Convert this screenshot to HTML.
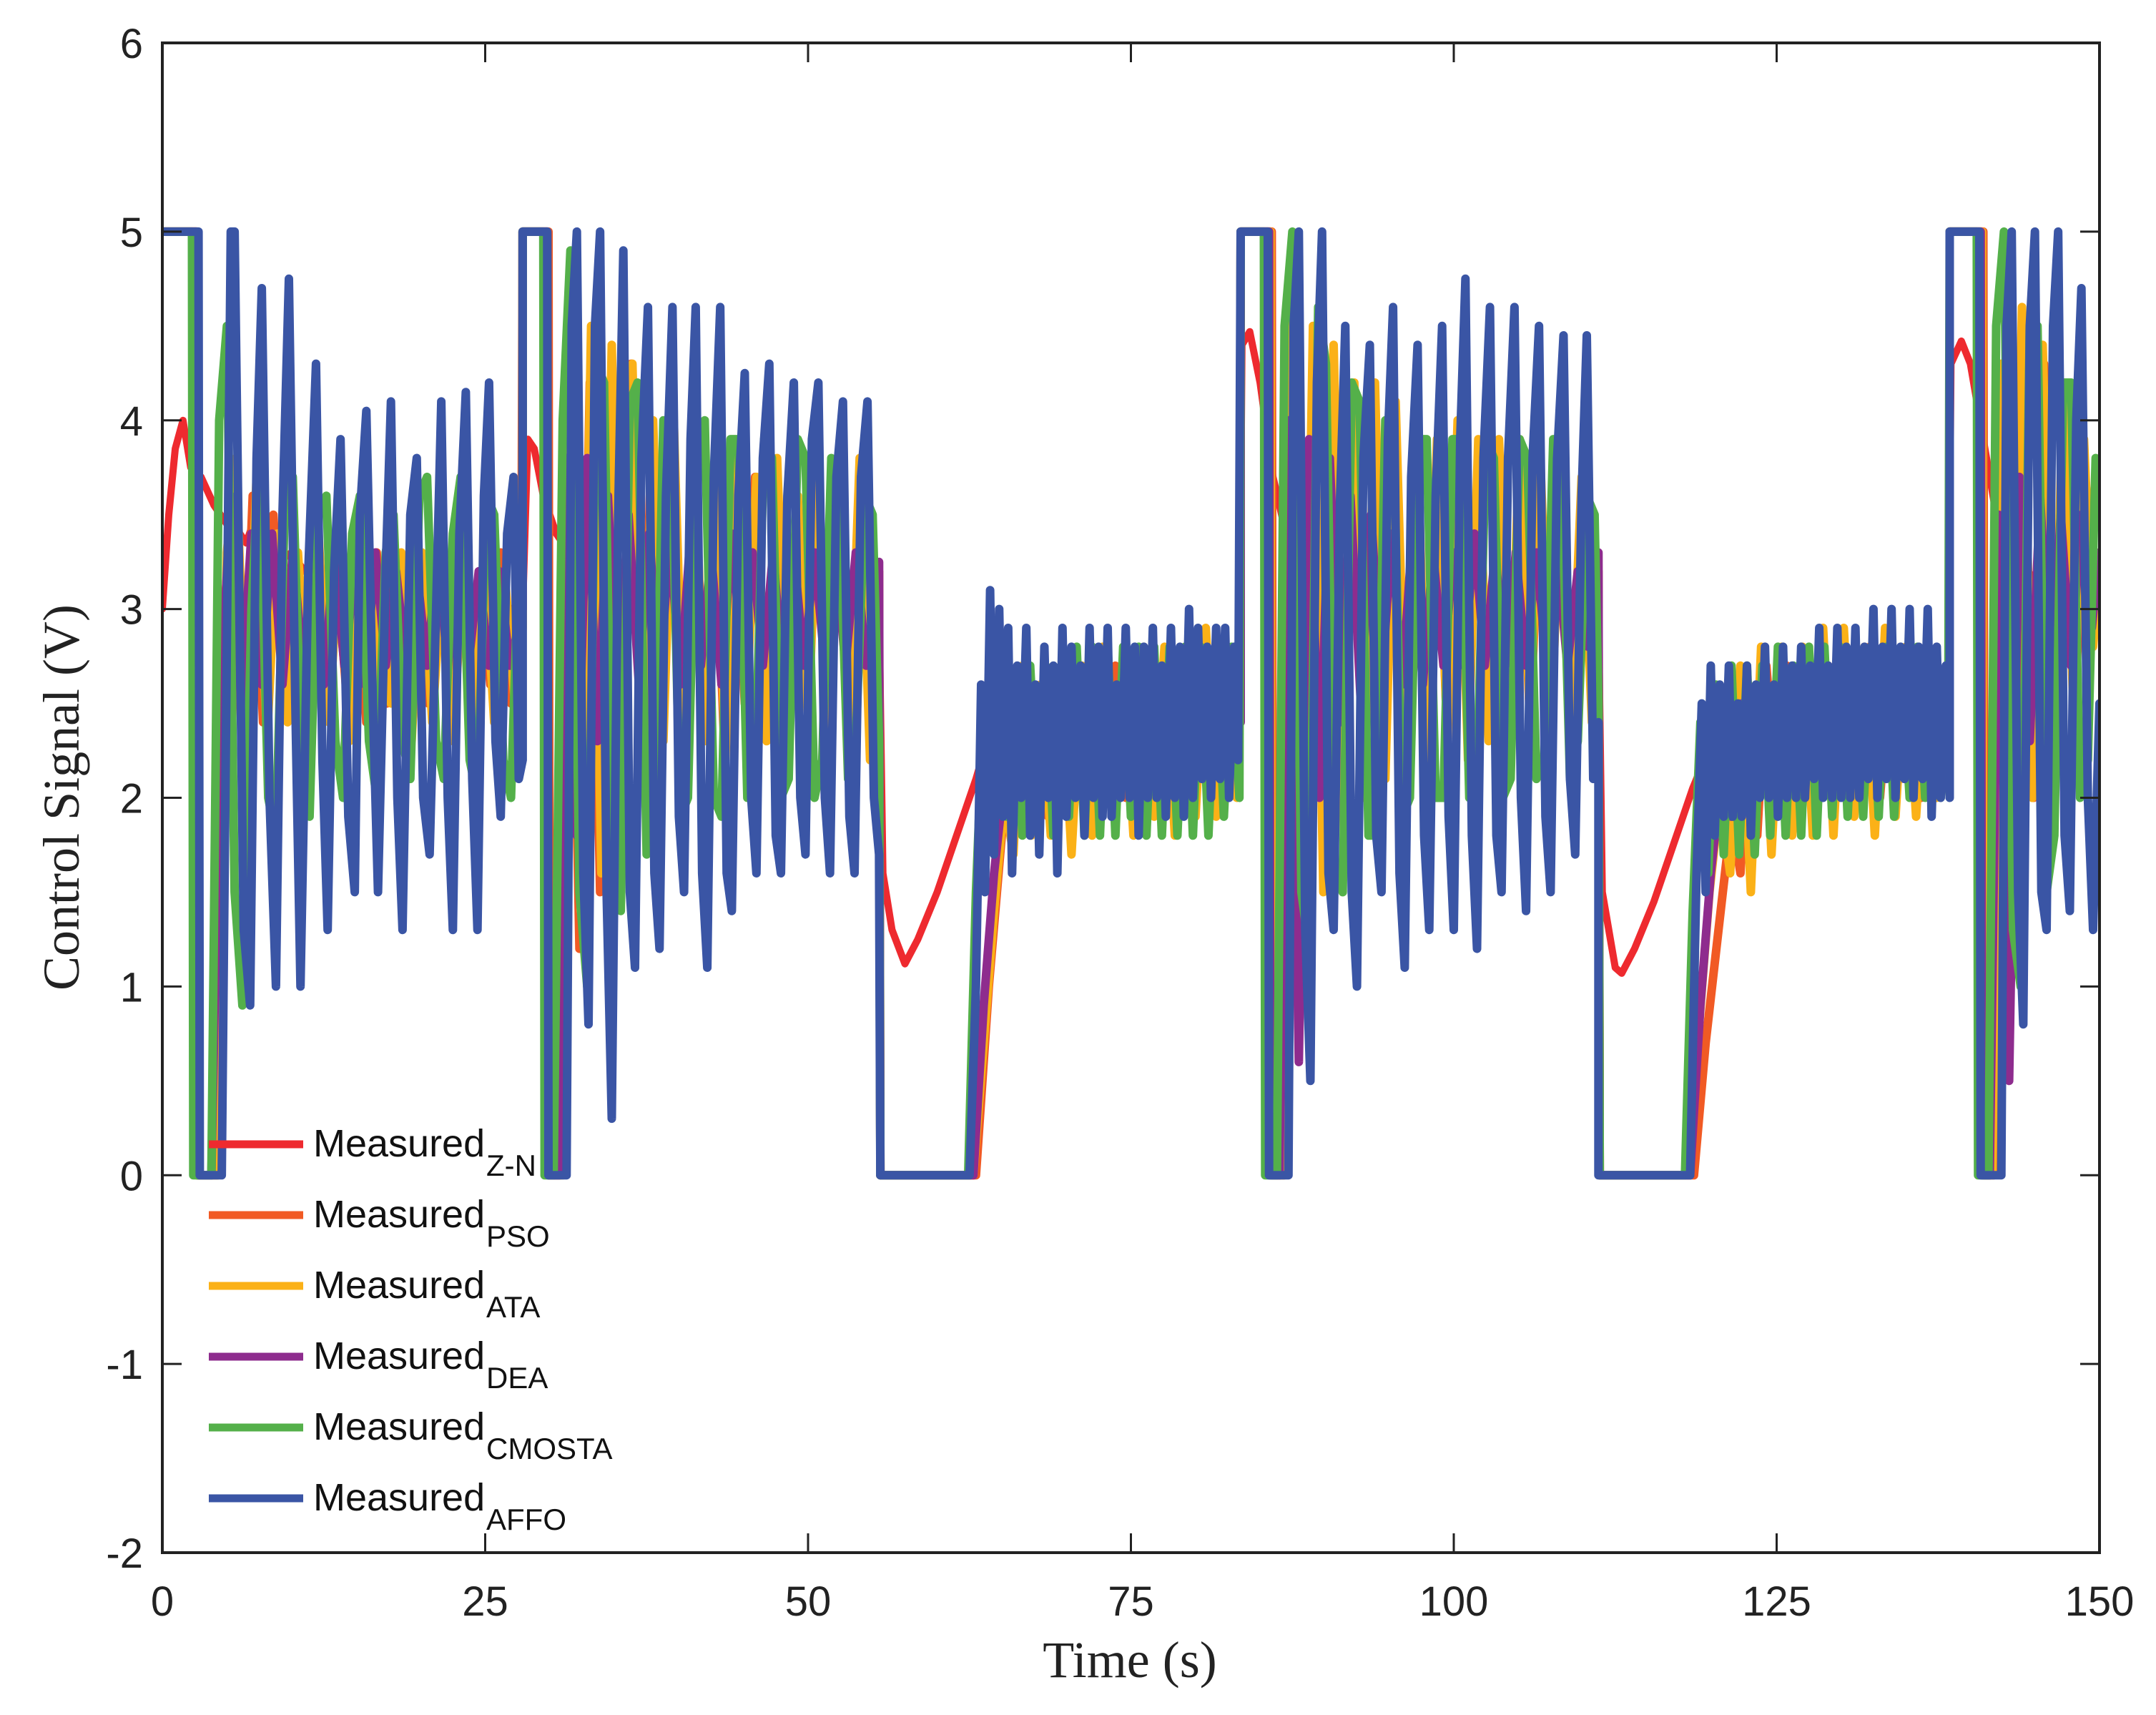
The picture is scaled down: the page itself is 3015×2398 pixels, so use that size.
<!DOCTYPE html>
<html><head><meta charset="utf-8"><style>
html,body{margin:0;padding:0;background:#fff;}
svg{display:block;}
</style></head><body>
<svg id="chart" width="3015" height="2398" viewBox="0 0 3015 2398" xmlns="http://www.w3.org/2000/svg">
<rect x="0" y="0" width="3015" height="2398" fill="#fff"/>
<g id="series"></g>
<g id="axes"></g>
<g id="legend"></g>
</svg>
<script>
const xTicks=[0,25,50,75,100,125,150];
const yTicks=[-2,-1,0,1,2,3,4,5,6];
const seriesNames=["Z-N","PSO","ATA","DEA","CMOSTA","AFFO"];
const seriesColors=["#ee2a2f","#f15a24","#fbb117","#8e2c8e","#54b04a","#3a55a5"];
const redData=[[0,3],[0.5,3.5],[1,3.85],[1.6,4.0],[2.2,3.75],[3,3.7],[4,3.55],[5,3.45],[6,3.4],[6.5,3.35],[7,3.45],[8,3.3],[9,3.25],[10,3.3],[11,3.2],[12,3.25],[13,3.15],[14,3.2],[15,3.1],[16,3.2],[17,3.05],[18,3.15],[19,3.05],[20,3.1],[21,3.0],[22,3.1],[23,3.0],[24,3.05],[25,3.0],[26,3.05],[27,3.0],[27.9,3.0],[28.3,3.9],[28.8,3.85],[29.5,3.6],[30.5,3.4],[31.5,3.3],[33,3.25],[35,3.2],[38,3.1],[42,3.05],[46,3.0],[50,3.0],[55.5,3.0],[55.8,1.6],[56.5,1.3],[57.5,1.12],[58.5,1.25],[60,1.5],[61.5,1.8],[63,2.1],[64.5,2.45],[66,2.6],[68,2.6],[70,2.5],[73,2.45],[76,2.4],[80,2.45],[83.4,2.5],[83.6,4.4],[84.2,4.47],[85,4.2],[86,3.7],[87,3.4],[88.5,3.2],[90,3.1],[95,3.05],[100,3.0],[105,3.0],[111.2,3.0],[111.5,1.5],[112.5,1.1],[113,1.07],[114,1.2],[115.5,1.45],[117,1.75],[118.5,2.05],[120,2.3],[122,2.45],[125,2.45],[130,2.4],[135,2.45],[138.3,2.5],[138.5,4.3],[139.3,4.42],[140,4.3],[141,3.9],[142,3.5],[143,3.3],[144,3.2],[146,3.15],[148,3.15],[150,3.1]];
const psoData=[[0,5],[2.7,5],[2.8,0],[4.2,0],[4.8,3.0],[5.5,3.6],[6.2,2.2],[7,3.6],[7.8,2.4],[8.6,3.5],[9.4,2.5],[10.2,3.3],[11,2.4],[11.8,3.5],[12.6,2.5],[13.4,3.3],[14.2,2.6],[15,3.3],[15.8,2.4],[16.6,3.3],[17.4,2.5],[18.2,3.2],[19,2.5],[19.8,3.3],[20.6,2.5],[21.4,3.2],[22.2,2.6],[23,3.3],[23.8,2.5],[24.6,3.2],[25.4,2.6],[26.2,3.3],[27,2.5],[27.8,3.0],[27.9,5],[29.9,5],[30.0,0],[30.8,0],[31.5,4.0],[32.3,1.2],[33.1,4.2],[33.9,1.5],[34.7,4.2],[35.5,2.0],[36.3,4.3],[37.1,2.2],[37.9,3.9],[38.7,2.3],[39.5,3.8],[40.3,2.4],[41.1,3.8],[41.9,2.4],[42.7,3.7],[43.5,2.3],[44.3,3.6],[45.1,2.5],[45.9,3.7],[46.7,2.4],[47.5,3.6],[48.3,2.4],[49.1,3.5],[49.9,2.5],[50.7,3.6],[51.5,2.4],[52.3,3.5],[53.1,2.5],[53.9,3.4],[54.7,2.6],[55.5,3.2],[55.6,0],[63.0,0],[64,1.0],[65,1.8],[65.6,2.4],[66.2,1.9],[66.8,2.6],[67.4,1.9],[68,2.5],[68.6,1.9],[69.2,2.6],[69.8,2.0],[70.6,2.7],[71.4,1.9],[72.2,2.6],[73,2.0],[73.8,2.7],[74.6,2.0],[75.4,2.6],[76.2,1.9],[77,2.7],[77.8,2.0],[78.6,2.6],[79.4,2.0],[80.2,2.7],[81,2.0],[81.8,2.7],[82.6,2.1],[83.4,2.8],[83.5,5],[85.9,5],[86.0,0],[86.8,0],[87.5,4.5],[88.3,1.0],[89.1,4.3],[89.9,1.6],[90.7,4.2],[91.5,2.0],[92.3,4.0],[93.1,2.2],[93.9,4.0],[94.7,2.3],[95.5,3.9],[96.3,2.3],[97.1,3.8],[97.9,2.4],[98.7,3.8],[99.5,2.3],[100.3,3.7],[101.1,2.4],[101.9,3.8],[102.7,2.4],[103.5,3.6],[104.3,2.5],[105.1,3.7],[105.9,2.4],[106.7,3.6],[107.5,2.5],[108.3,3.6],[109.1,2.5],[109.9,3.5],[110.7,2.6],[111.2,3.2],[111.3,0],[118.6,0],[119.5,0.7],[120.5,1.3],[121.5,1.9],[122.2,1.6],[122.8,2.6],[123.5,1.8],[124.2,2.7],[125,2.0],[125.8,2.7],[126.6,2.0],[127.4,2.7],[128.2,2.0],[129,2.7],[129.8,2.0],[130.6,2.7],[131.4,2.1],[132.2,2.8],[133,2.0],[133.8,2.7],[134.6,2.1],[135.4,2.8],[136.2,2.0],[137,2.7],[137.8,2.1],[138.4,2.6],[138.4,5],[141.0,5],[141.1,0],[141.8,0],[142.5,4.0],[143.3,1.5],[144.1,4.2],[144.9,2.0],[145.7,4.3],[146.5,2.3],[147.3,4.0],[148.1,2.5],[148.9,3.7],[149.6,3.0],[150,3.3]];
const ataData=[[0,5],[2.6,5],[2.7,0],[4.3,0],[5,3.3],[5.7,3.8],[6.5,2.3],[7.3,3.7],[8.1,2.3],[8.9,3.4],[9.7,2.4],[10.5,3.3],[11.3,2.5],[12.1,3.4],[12.9,2.4],[13.7,3.3],[14.5,2.3],[15.3,3.3],[16.1,2.4],[16.9,3.2],[17.7,2.5],[18.5,3.3],[19.3,2.3],[20.1,3.3],[20.9,2.4],[21.7,3.2],[22.5,2.3],[23.3,3.2],[24.1,2.4],[24.9,3.3],[25.7,2.4],[26.5,3.2],[27.3,2.5],[27.9,2.9],[27.9,5],[29.8,5],[29.9,0],[31.0,0],[31.6,4.3],[32.4,1.4],[33.2,4.5],[34,1.6],[34.8,4.4],[35.6,1.8],[36.4,4.3],[37.2,2.1],[38,4.0],[38.8,2.3],[39.6,4.0],[40.4,2.2],[41.2,3.9],[42,2.3],[42.8,3.8],[43.6,2.2],[44.4,3.8],[45.2,2.4],[46,3.7],[46.8,2.3],[47.6,3.8],[48.4,2.3],[49.2,3.6],[50,2.4],[50.8,3.7],[51.6,2.3],[52.4,3.6],[53.2,2.3],[54,3.8],[54.8,2.2],[55.5,3.0],[55.6,0],[62.8,0],[63.6,0.7],[64.4,1.4],[65.2,2.0],[65.9,1.7],[66.6,2.7],[67.3,1.8],[68,2.6],[68.8,1.8],[69.6,2.7],[70.4,1.7],[71.2,2.7],[72,1.8],[72.8,2.8],[73.6,1.9],[74.4,2.7],[75.2,1.8],[76,2.8],[76.8,1.9],[77.6,2.8],[78.4,1.8],[79.2,2.8],[80,1.9],[80.8,2.9],[81.6,1.9],[82.4,2.8],[83.2,2.0],[83.5,2.6],[83.5,5],[85.8,5],[85.9,0],[86.9,0],[87.5,4.6],[88.3,1.3],[89.1,4.5],[89.9,1.5],[90.7,4.4],[91.5,1.8],[92.3,4.2],[93.1,2.0],[93.9,4.2],[94.7,2.1],[95.5,4.1],[96.3,2.2],[97.1,4.1],[97.9,2.2],[98.7,3.9],[99.5,2.3],[100.3,4.0],[101.1,2.2],[101.9,3.9],[102.7,2.3],[103.5,3.9],[104.3,2.3],[105.1,3.9],[105.9,2.4],[106.7,3.8],[107.5,2.3],[108.3,3.7],[109.1,2.4],[109.9,3.7],[110.7,2.4],[111.2,3.0],[111.3,0],[118.2,0],[119,0.8],[119.8,1.5],[120.6,2.0],[121.4,1.6],[122.2,2.7],[123,1.5],[123.8,2.8],[124.6,1.7],[125.4,2.8],[126.2,1.8],[127,2.8],[127.8,1.8],[128.6,2.9],[129.4,1.8],[130.2,2.9],[131,1.9],[131.8,2.8],[132.6,1.8],[133.4,2.9],[134.2,1.9],[135,2.8],[135.8,1.9],[136.6,2.8],[137.4,2.0],[138.4,2.7],[138.4,5],[140.9,5],[141.0,0],[141.7,0],[142.4,4.3],[143.2,1.6],[144,4.6],[144.8,2.0],[145.6,4.4],[146.4,2.2],[147.2,4.2],[148,2.4],[148.8,3.9],[149.5,2.8],[150,3.2]];
const deaData=[[0,5],[2.6,5],[2.7,0],[3.8,0],[4.5,2.5],[5.3,3.6],[6.1,2.5],[6.9,3.4],[7.7,2.6],[8.5,3.4],[9.3,2.6],[10.1,3.3],[10.9,2.7],[11.7,3.3],[12.5,2.6],[13.3,3.3],[14.1,2.7],[14.9,3.2],[15.7,2.6],[16.5,3.3],[17.3,2.7],[18.1,3.2],[18.9,2.7],[19.7,3.2],[20.5,2.7],[21.3,3.3],[22.1,2.7],[22.9,3.2],[23.7,2.7],[24.5,3.2],[25.3,2.7],[26.1,3.2],[26.9,2.7],[27.9,3.0],[27.9,5],[29.8,5],[29.9,0],[30.7,0],[31.3,3.8],[32.1,1.8],[32.9,3.8],[33.7,2.3],[34.5,3.6],[35.3,2.5],[36.1,3.5],[36.9,2.6],[37.7,3.4],[38.5,2.6],[39.3,3.4],[40.1,2.6],[40.9,3.4],[41.7,2.7],[42.5,3.3],[43.3,2.6],[44.1,3.4],[44.9,2.7],[45.7,3.3],[46.5,2.7],[47.3,3.3],[48.1,2.6],[48.9,3.3],[49.7,2.7],[50.5,3.3],[51.3,2.7],[52.1,3.3],[52.9,2.7],[53.7,3.3],[54.5,2.7],[55.5,3.25],[55.6,0],[62.8,0],[63.6,0.9],[64.4,1.6],[65.2,2.1],[66,1.9],[66.8,2.5],[67.6,2.0],[68.4,2.5],[69.2,2.1],[70,2.6],[70.8,2.1],[71.6,2.6],[72.4,2.1],[73.2,2.6],[74,2.1],[74.8,2.6],[75.6,2.2],[76.4,2.6],[77.2,2.1],[78,2.6],[78.8,2.2],[79.6,2.6],[80.4,2.2],[81.2,2.6],[82,2.2],[82.8,2.6],[83.5,2.4],[83.5,5],[85.7,5],[85.8,0],[86.5,0],[87.2,4.0],[88,0.6],[88.8,3.9],[89.6,2.0],[90.4,3.8],[91.2,2.4],[92,3.6],[92.8,2.5],[93.6,3.5],[94.4,2.6],[95.2,3.4],[96,2.6],[96.8,3.4],[97.6,2.6],[98.4,3.3],[99.2,2.7],[100,3.3],[100.8,2.7],[101.6,3.4],[102.4,2.7],[103.2,3.3],[104,2.7],[104.8,3.3],[105.6,2.7],[106.4,3.3],[107.2,2.7],[108,3.3],[108.8,2.7],[109.6,3.2],[110.4,2.8],[111.2,3.3],[111.3,0],[118.3,0],[119.1,0.9],[119.9,1.6],[120.7,2.1],[121.5,1.9],[122.3,2.5],[123.1,2.0],[123.9,2.6],[124.7,2.1],[125.5,2.6],[126.3,2.1],[127.1,2.6],[127.9,2.1],[128.7,2.6],[129.5,2.2],[130.3,2.6],[131.1,2.1],[131.9,2.6],[132.7,2.2],[133.5,2.6],[134.3,2.2],[135.1,2.6],[135.9,2.2],[136.7,2.6],[137.5,2.3],[138.4,2.5],[138.4,5],[140.8,5],[140.9,0],[141.5,0],[142.2,3.5],[143,0.5],[143.8,3.7],[144.6,2.3],[145.4,3.6],[146.2,2.6],[147,3.5],[147.8,2.7],[148.6,3.5],[149.4,2.9],[150,3.3]];
const cmostaData=[[0,5],[2.3,5],[2.4,0],[3.8,0],[4.4,4.0],[5.0,4.5],[5.6,1.5],[6.2,0.9],[6.9,3.0],[7.5,3.8],[8.2,2.0],[8.8,1.8],[9.5,3.6],[10.1,3.7],[10.8,2.2],[11.4,1.9],[12.1,3.5],[12.7,3.6],[13.4,2.3],[14,2.0],[14.7,3.4],[15.3,3.6],[16,2.3],[16.6,2.0],[17.3,3.3],[17.9,3.5],[18.6,2.3],[19.2,2.1],[19.9,3.6],[20.5,3.7],[21.2,2.3],[21.8,2.1],[22.5,3.4],[23.1,3.7],[23.8,2.2],[24.4,2.0],[25.1,3.6],[25.7,3.5],[26.4,2.2],[27,2.0],[27.6,3.3],[27.9,3.4],[27.9,5],[29.5,5],[29.6,0],[30.3,0],[31,4.0],[31.6,4.9],[32.3,1.5],[32.9,1.0],[33.6,4.3],[34.2,4.2],[34.9,1.6],[35.5,1.4],[36.2,4.1],[36.8,4.2],[37.5,1.7],[38.1,1.8],[38.8,4.0],[39.4,3.9],[40.1,1.9],[40.7,2.0],[41.4,3.9],[42,4.0],[42.7,2.0],[43.3,1.9],[44,3.9],[44.6,3.9],[45.3,2.0],[45.9,2.1],[46.6,3.9],[47.2,3.8],[47.9,2.0],[48.5,2.1],[49.2,3.9],[49.8,3.8],[50.5,2.0],[51.1,2.2],[51.8,3.8],[52.4,3.6],[53.1,2.1],[53.7,2.3],[54.4,3.6],[55,3.5],[55.5,2.3],[55.6,0],[62.4,0],[63,1.5],[63.6,2.5],[64.2,1.8],[64.8,2.6],[65.4,1.9],[66,2.6],[66.6,1.8],[67.2,2.7],[67.8,1.9],[68.4,2.7],[69,1.8],[69.6,2.7],[70.2,1.9],[70.8,2.8],[71.4,1.8],[72,2.8],[72.6,1.8],[73.2,2.8],[73.8,1.8],[74.4,2.8],[75,1.9],[75.6,2.8],[76.2,1.8],[76.8,2.8],[77.4,1.8],[78,2.8],[78.6,1.8],[79.2,2.8],[79.8,1.8],[80.4,2.8],[81,1.8],[81.6,2.8],[82.2,1.9],[82.8,2.8],[83.4,2.0],[83.5,5],[85.3,5],[85.4,0],[86.3,0],[86.9,4.5],[87.5,5],[88.2,1.5],[88.8,1.2],[89.5,4.6],[90.1,4.3],[90.8,1.6],[91.4,1.5],[92.1,4.2],[92.7,4.1],[93.4,1.8],[94,1.8],[94.7,4.0],[95.3,4.0],[96,1.9],[96.6,2.0],[97.3,3.9],[97.9,3.9],[98.6,2.0],[99.2,2.0],[99.9,3.9],[100.5,3.9],[101.2,2.0],[101.8,2.1],[102.5,3.9],[103.1,3.8],[103.8,2.0],[104.4,2.1],[105.1,3.9],[105.7,3.8],[106.4,2.1],[107,2.2],[107.7,3.9],[108.3,3.8],[109,2.1],[109.6,2.3],[110.3,3.6],[110.9,3.5],[111.2,2.5],[111.3,0],[117.9,0],[118.5,1.4],[119.1,2.4],[119.7,1.6],[120.3,2.6],[120.9,1.7],[121.5,2.7],[122.1,1.7],[122.7,2.7],[123.3,1.7],[123.9,2.7],[124.5,1.8],[125.1,2.8],[125.7,1.8],[126.3,2.7],[126.9,1.8],[127.5,2.8],[128.1,1.8],[128.7,2.8],[129.3,1.9],[129.9,2.8],[130.5,1.9],[131.1,2.8],[131.7,1.9],[132.3,2.8],[132.9,1.9],[133.5,2.8],[134.1,1.9],[134.7,2.7],[135.3,2.0],[135.9,2.8],[136.5,2.0],[137.1,2.7],[137.7,2.0],[138.3,2.6],[138.4,5],[140.5,5],[140.6,0],[141.4,0],[142,4.5],[142.6,5],[143.3,1.3],[143.9,1.0],[144.6,4.5],[145.2,4.5],[145.9,1.5],[146.5,1.8],[147.2,4.2],[147.8,4.2],[148.5,2.0],[149.1,2.2],[149.7,3.8],[150,3.6]];
const affoData=[[0,5],[2.8,5],[2.9,0],[4.6,0],[5.3,5],[5.6,5],[6.3,1.3],[6.8,0.9],[7.3,3.8],[7.7,4.7],[8.3,2.0],[8.8,1.0],[9.3,3.5],[9.8,4.75],[10.3,2.5],[10.7,1.0],[11.3,3.2],[11.9,4.3],[12.4,2.2],[12.8,1.3],[13.3,3.2],[13.8,3.9],[14.4,1.9],[14.9,1.5],[15.3,3.5],[15.8,4.05],[16.3,2.5],[16.7,1.5],[17.3,3.2],[17.7,4.1],[18.2,2.0],[18.6,1.3],[19.2,3.5],[19.7,3.8],[20.2,2.0],[20.7,1.7],[21.2,3.0],[21.6,4.1],[22.1,2.0],[22.5,1.3],[23.0,3.4],[23.5,4.15],[24.0,2.1],[24.4,1.3],[24.9,3.6],[25.3,4.2],[25.8,2.3],[26.2,1.9],[26.7,3.4],[27.2,3.7],[27.6,2.1],[27.9,2.2],[27.9,5],[29.8,5],[29.9,0],[31.3,0],[31.7,4.5],[32.1,5],[32.6,1.6],[33.0,0.8],[33.5,4.5],[33.9,5],[34.4,1.5],[34.8,0.3],[35.3,3.5],[35.7,4.9],[36.2,1.5],[36.6,1.1],[37.1,3.8],[37.6,4.6],[38.1,1.6],[38.5,1.2],[39.0,3.6],[39.5,4.6],[40.0,1.9],[40.4,1.5],[40.9,3.9],[41.3,4.6],[41.8,1.6],[42.2,1.1],[42.7,3.7],[43.2,4.6],[43.7,1.6],[44.1,1.4],[44.6,3.6],[45.1,4.25],[45.6,2.0],[46.0,1.6],[46.5,3.8],[47.0,4.3],[47.5,1.8],[47.9,1.6],[48.4,3.6],[48.9,4.2],[49.4,2.0],[49.8,1.7],[50.3,3.9],[50.8,4.2],[51.3,2.0],[51.7,1.6],[52.2,3.7],[52.7,4.1],[53.2,1.9],[53.6,1.6],[54.1,3.7],[54.6,4.1],[55.1,2.0],[55.5,1.7],[55.6,0],[62.5,0],[63.0,1.0],[63.4,2.6],[63.7,1.5],[64.1,3.1],[64.4,1.7],[64.8,3.0],[65.1,1.9],[65.5,2.9],[65.8,1.6],[66.2,2.7],[66.5,2.0],[66.9,2.9],[67.2,1.8],[67.6,2.6],[67.9,1.7],[68.3,2.8],[68.6,2.0],[69.0,2.7],[69.3,1.6],[69.7,2.9],[70.0,1.9],[70.4,2.8],[70.7,2.0],[71.1,2.7],[71.4,1.8],[71.8,2.9],[72.1,2.0],[72.5,2.8],[72.8,1.9],[73.2,2.9],[73.5,1.9],[73.9,2.6],[74.2,2.0],[74.6,2.9],[74.9,2.0],[75.3,2.8],[75.6,1.8],[76.0,2.8],[76.3,2.0],[76.7,2.9],[77.0,2.0],[77.4,2.7],[77.7,1.9],[78.1,2.9],[78.4,2.0],[78.8,2.8],[79.1,1.9],[79.5,3.0],[79.8,2.0],[80.2,2.9],[80.5,2.1],[80.9,2.8],[81.2,2.0],[81.6,2.9],[81.9,2.1],[82.3,2.9],[82.6,2.0],[83.0,2.8],[83.3,2.2],[83.5,5],[85.6,5],[85.7,0],[87.2,0],[87.6,4.5],[88.0,5],[88.5,1.3],[88.9,0.5],[89.4,4.2],[89.8,5],[90.3,1.6],[90.7,1.3],[91.2,3.6],[91.6,4.5],[92.1,1.5],[92.5,1.0],[93.0,3.8],[93.5,4.4],[94.0,1.8],[94.4,1.5],[94.9,3.9],[95.3,4.6],[95.8,1.6],[96.2,1.1],[96.7,3.7],[97.2,4.4],[97.7,1.8],[98.1,1.3],[98.6,3.6],[99.1,4.5],[99.6,1.9],[100.0,1.3],[100.5,3.9],[100.9,4.75],[101.4,1.8],[101.8,1.2],[102.3,3.8],[102.8,4.6],[103.3,1.8],[103.7,1.5],[104.2,3.8],[104.7,4.6],[105.2,2.0],[105.6,1.4],[106.1,3.8],[106.6,4.5],[107.1,1.9],[107.5,1.5],[108.0,3.8],[108.5,4.45],[109.0,2.1],[109.4,1.7],[109.9,3.6],[110.3,4.45],[110.8,2.1],[111.2,2.4],[111.2,0],[118.3,0],[118.8,1.6],[119.2,2.5],[119.5,1.5],[119.9,2.7],[120.2,1.8],[120.6,2.6],[120.9,1.9],[121.3,2.7],[121.6,1.9],[122.0,2.5],[122.3,1.9],[122.7,2.7],[123.0,1.8],[123.4,2.6],[123.7,2.0],[124.1,2.8],[124.4,2.0],[124.8,2.6],[125.1,1.9],[125.5,2.8],[125.8,2.0],[126.2,2.7],[126.5,2.0],[126.9,2.8],[127.2,2.0],[127.6,2.7],[127.9,2.1],[128.3,2.9],[128.6,2.0],[129.0,2.7],[129.3,2.0],[129.7,2.9],[130.0,2.0],[130.4,2.8],[130.7,2.0],[131.1,2.9],[131.4,2.0],[131.8,2.8],[132.1,2.1],[132.5,3.0],[132.8,2.0],[133.2,2.8],[133.5,2.1],[133.9,3.0],[134.2,2.0],[134.6,2.8],[134.9,2.1],[135.3,3.0],[135.6,2.0],[136.0,2.8],[136.3,2.1],[136.7,3.0],[137.0,1.9],[137.4,2.8],[137.7,2.0],[138.1,2.7],[138.4,2.0],[138.4,5],[140.7,5],[140.8,0],[142.4,0],[142.8,4.5],[143.2,5],[143.7,1.5],[144.1,0.8],[144.6,4.5],[145.0,5],[145.5,1.5],[145.9,1.3],[146.4,4.5],[146.8,5],[147.3,1.8],[147.7,1.4],[148.2,4.0],[148.6,4.7],[149.1,2.0],[149.5,1.3],[150,2.5]];

const NS="http://www.w3.org/2000/svg";
const L=227,R=2936,T=60,B=2171,XMIN=0,XMAX=150,YMIN=-2,YMAX=6;
function X(t){return L+(t-XMIN)/(XMAX-XMIN)*(R-L);}
function Y(v){return B-(v-YMIN)/(YMAX-YMIN)*(B-T);}
function mk(tag,attrs,parent){const e=document.createElementNS(NS,tag);for(const k in attrs)e.setAttribute(k,attrs[k]);parent.appendChild(e);return e;}

const allData=[redData,psoData,ataData,deaData,cmostaData,affoData];
const sg=document.getElementById('series');
const clip=mk('clipPath',{id:'pc'},document.getElementById('chart'));
mk('rect',{x:L,y:T,width:R-L,height:B-T},clip);
sg.setAttribute('clip-path','url(#pc)');
allData.forEach((d,i)=>{
  const p=mk('polyline',{points:d.map(q=>X(q[0]).toFixed(1)+','+Y(q[1]).toFixed(1)).join(' '),fill:'none',stroke:seriesColors[i],'stroke-width':i===0?10:12,'stroke-linejoin':'round','stroke-linecap':'round'},sg);
  
  
});

const ax=document.getElementById('axes');
const frame=mk('rect',{x:L,y:T,width:R-L,height:B-T,fill:'none',stroke:'#222','stroke-width':4},ax);


const TL=27;
xTicks.forEach(t=>{
  const x=X(t);
  mk('line',{x1:x,y1:B,x2:x,y2:B-TL,stroke:'#222','stroke-width':3},ax);
  mk('line',{x1:x,y1:T,x2:x,y2:T+TL,stroke:'#222','stroke-width':3},ax);
  const tx=mk('text',{x:x,y:2259,'text-anchor':'middle','font-family':'Liberation Sans, Arial, sans-serif','font-size':58,fill:'#222'},ax);
  tx.textContent=t;
  
  
});
yTicks.forEach(v=>{
  const y=Y(v);
  mk('line',{x1:L,y1:y,x2:L+TL,y2:y,stroke:'#222','stroke-width':3},ax);
  mk('line',{x1:R,y1:y,x2:R-TL,y2:y,stroke:'#222','stroke-width':3},ax);
  const tx=mk('text',{x:200,y:y+21,'text-anchor':'end','font-family':'Liberation Sans, Arial, sans-serif','font-size':58,fill:'#222'},ax);
  tx.textContent=v;
  
  
});
const xt=mk('text',{x:1580,y:2345,'text-anchor':'middle','font-family':'Liberation Serif, serif','font-size':72,fill:'#222'},ax);
xt.textContent='Time (s)';


const yt=mk('text',{x:0,y:0,'text-anchor':'middle','font-family':'Liberation Serif, serif','font-size':72,fill:'#222',transform:'translate(110,1115) rotate(-90)'},ax);
yt.textContent='Control Signal (V)';



const lg=document.getElementById('legend');
seriesNames.forEach((n,i)=>{
  const y=1600+i*99;
  const g=mk('g',{},lg);
  
  
  mk('line',{x1:292,y1:y,x2:424,y2:y,stroke:seriesColors[i],'stroke-width':11},g);
  const t=mk('text',{x:438,y:y+17,'font-family':'Liberation Sans, Arial, sans-serif','font-size':54,fill:'#111'},g);
  t.textContent='Measured';
  const s=mk('text',{x:680,y:y+44,'font-family':'Liberation Sans, Arial, sans-serif','font-size':42,fill:'#111'},g);
  s.textContent=n;
});
</script>
</body></html>
